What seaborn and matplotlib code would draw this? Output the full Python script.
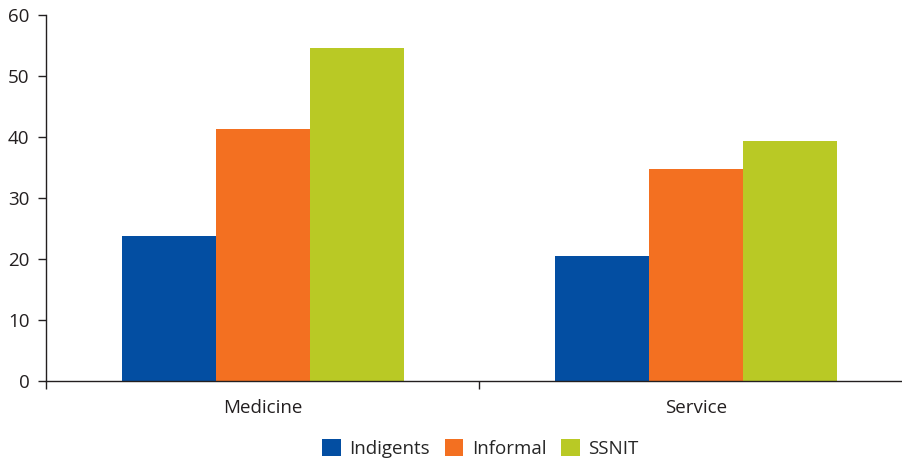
import matplotlib
matplotlib.use("Agg")
import matplotlib.pyplot as plt
import seaborn as sns
import pandas as pd
from matplotlib.ticker import FixedLocator

categories = ["Medicine", "Service"]
groups = ["Indigents", "Informal", "SSNIT"]
indigents = [23.7, 20.5]
informal = [41.2, 34.7]
ssnit = [54.5, 39.3]
colors = ["#034EA2", "#F37021", "#B9C925"]

rows = []
for g, vals in zip(groups, [indigents, informal, ssnit]):
    for c, v in zip(categories, vals):
        rows.append({"category": c, "group": g, "value": v})
df = pd.DataFrame(rows)

sns.set_style("white")
plt.rcParams["font.family"] = ["Open Sans", "DejaVu Sans"]

fig = plt.figure(figsize=(9.03, 4.63), dpi=100)
ax = fig.add_axes([46 / 903, 82 / 463, 867 / 903, 366.5 / 463])

sns.barplot(data=df, x="category", y="value", hue="group", order=categories,
            hue_order=groups, palette=colors, width=0.65, gap=0,
            saturation=1, linewidth=0, edgecolor="none", ax=ax, legend=True)

ax.set_xlim(-0.5, 1.5)
ax.set_ylim(0, 60)
ax.set_yticks(range(0, 61, 10))
ax.set_xlabel("")
ax.set_ylabel("")

for side in ["top", "right"]:
    ax.spines[side].set_visible(False)
for side in ["left", "bottom"]:
    ax.spines[side].set_color("#231F20")
    ax.spines[side].set_linewidth(1.0)

ax.xaxis.set_minor_locator(FixedLocator([-0.5, 0.5, 1.5]))
ax.tick_params(axis="x", which="major", length=0, pad=13, labelsize=13.5, colors="#231F20")
ax.tick_params(axis="x", which="minor", length=6, width=1, direction="out", color="#231F20", bottom=True)
ax.tick_params(axis="y", length=6, width=1, direction="out", left=True, pad=6, labelsize=13.5, colors="#231F20")

handles, labels = ax.get_legend_handles_labels()
ax.legend_.remove()
fig.legend(handles, labels, loc="center", bbox_to_anchor=(0.532, 0.031), ncol=3,
           frameon=False, fontsize=13.5, handlelength=1.0, handleheight=1.0,
           handletextpad=0.45, columnspacing=0.8)

fig.savefig("out.png", dpi=100)
